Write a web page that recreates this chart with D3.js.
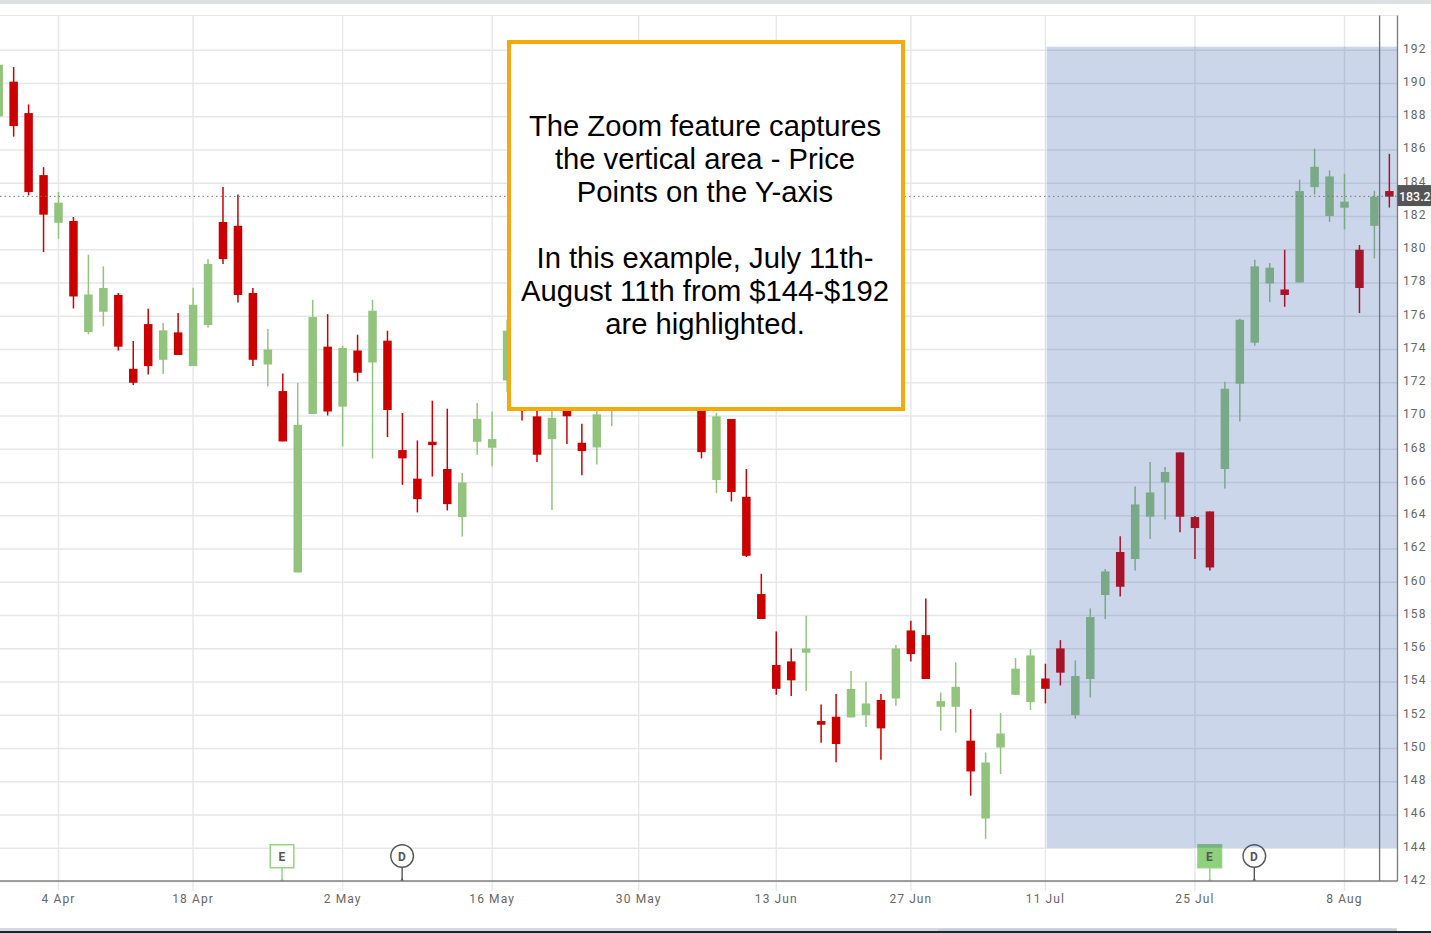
<!DOCTYPE html>
<html><head><meta charset="utf-8">
<script src="https://cdn.jsdelivr.net/npm/d3@7"></script>
<style>
html,body{margin:0;padding:0;background:#fff;overflow:hidden}
svg{display:block}
.tick text{font-family:Roboto,sans-serif;font-size:12px;letter-spacing:1.1px;fill:#666}
</style></head><body>
<svg id="c" width="1431" height="933"></svg>
<script>
// session index: 0 = 4 Apr; last = 11 Aug
const firstIndex = -4;
const opens = [187.99,190.08,188.19,184.46,181.59,181.70,175.02,176.24,177.25,172.81,175.50,173.35,175.00,172.97,175.44,181.64,181.41,177.37,173.07,171.47,160.56,170.09,174.14,170.53,173.91,173.19,174.50,167.92,166.20,168.42,166.78,163.89,168.42,168.06,172.11,173.05,169.95,168.58,170.65,168.36,168.08,171.25,172.45,173.35,175.76,173.96,173.05,170.65,166.12,169.79,165.11,159.26,154.99,155.21,155.73,151.62,151.88,151.84,151.98,152.89,152.98,157.07,156.79,152.48,152.48,150.44,145.76,150.03,153.20,152.76,154.18,155.99,151.98,154.15,159.20,161.79,161.37,163.91,165.97,167.78,163.89,164.23,166.78,171.91,174.38,177.94,177.58,178.00,183.74,182.00,182.50,179.97,181.41,183.50];
const closes = [191.10,187.41,183.44,182.08,182.80,177.16,177.28,177.67,174.14,171.97,172.97,175.12,173.64,176.66,179.11,179.41,177.25,173.35,173.97,168.44,169.44,175.92,170.24,174.06,172.57,176.30,170.33,167.42,164.97,168.22,164.67,165.97,169.80,168.58,175.10,171.25,167.64,169.86,169.95,167.86,170.07,173.35,174.56,176.06,173.65,172.75,171.85,167.80,169.95,165.40,161.56,157.76,153.56,154.07,155.99,151.40,150.24,153.55,152.68,151.18,155.99,155.65,154.15,152.82,153.68,148.59,149.13,150.87,154.77,155.57,153.56,154.53,154.33,157.88,160.62,159.70,164.65,165.37,166.60,163.91,163.23,160.86,171.61,175.76,178.97,178.89,177.25,183.50,184.96,184.38,182.86,177.67,183.16,183.16];
const highs = [191.10,190.96,188.71,184.94,183.44,181.94,179.67,178.97,177.37,174.48,176.42,175.56,176.16,177.68,179.41,183.74,183.30,177.67,175.20,172.53,171.95,176.96,176.10,174.20,174.86,176.96,175.10,170.15,168.50,170.89,170.41,166.54,170.75,170.23,175.76,173.96,170.95,170.95,171.25,169.50,170.65,174.56,175.16,176.96,176.66,174.56,173.65,171.25,170.15,169.79,166.78,160.48,157.01,155.99,157.96,152.62,153.25,154.63,153.99,153.25,156.19,157.65,159.00,153.34,155.15,152.34,149.73,152.10,155.41,155.95,155.07,156.49,155.27,158.39,160.76,162.73,165.73,167.20,166.90,167.78,163.95,164.23,172.03,175.82,179.37,179.17,179.97,184.18,186.05,184.74,184.54,180.25,183.52,185.74];
const lows = [187.99,186.77,183.24,179.83,180.63,176.44,174.88,175.36,173.91,171.83,172.47,172.49,173.64,172.97,175.30,179.11,176.80,172.97,171.75,168.44,160.56,170.09,170.00,168.14,172.05,167.42,168.70,165.83,164.17,166.33,164.29,162.72,167.64,166.94,171.41,169.70,167.20,164.31,168.28,166.40,167.06,169.36,171.85,173.05,173.05,171.85,171.25,167.42,165.33,164.83,161.49,157.76,153.20,153.13,153.43,150.32,149.15,151.84,151.26,149.29,152.54,155.21,154.15,151.04,150.93,147.13,144.54,148.43,153.20,152.28,152.68,153.76,151.76,153.04,157.76,159.12,160.68,162.57,163.75,162.97,161.37,160.68,165.61,169.64,174.20,176.82,176.54,178.00,183.30,181.64,181.19,176.16,179.45,182.51];
const priceTicks = d3.range(142, 194, 2);
const dateTickLabels = ["4 Apr","18 Apr","2 May","16 May","30 May","13 Jun","27 Jun","11 Jul","25 Jul","8 Aug"];
const dateTicks = [0,9,19,29,38.8,48,57,66,76,86];
const lastPrice = 183.2;
const crosshairIndex = 88.38;
const zoomStartIndex = 66.13, zoomTopPrice = 192.18, zoomBottomPrice = 144;
const events = [{k:"E",i:14.95,filled:false},{k:"D",i:22.98,filled:false},{k:"E",i:76.99,filled:true},{k:"D",i:79.97,filled:false}];
const noteLines = ["The Zoom feature captures","the vertical area - Price","Points on the Y-axis","","In this example, July 11th-","August 11th from $144-$192","are highlighted."];

const svg = d3.select("#c");
const L = 0, R = 1397.5, T = 15.5, B = 881;
const x = d3.scaleLinear().domain([0,86]).range([58,1344]);
const xc = i => x(i) + 0.5;
const y = d3.scaleLinear().domain([142,192]).range([B,49.75]);
const GRID = "#e6e7ea", RED = "#cc0000", GREEN = "#93c47d", AXIS="#808080";

// page chrome
svg.append("rect").attr("x",0).attr("y",0).attr("width",1431).attr("height",4).attr("fill","#dee1e4");
svg.append("rect").attr("x",0).attr("y",928).attr("width",1397).attr("height",3).attr("fill","#d6d9dc");
svg.append("rect").attr("x",938).attr("y",929).attr("width",459).attr("height",2).attr("fill","#c6ced9");
svg.append("rect").attr("x",0).attr("y",931).attr("width",1431).attr("height",2).attr("fill","#1b2432");
svg.append("line").attr("x1",L).attr("x2",R).attr("y1",T).attr("y2",T).attr("stroke",GRID).attr("stroke-width",1.2);

// grids via axes
const yGrid = svg.append("g").attr("transform",`translate(${R},0)`)
  .call(d3.axisLeft(y).tickValues(priceTicks).tickSize(R-L).tickFormat(""));
yGrid.select(".domain").remove();
yGrid.selectAll("line").attr("stroke",GRID).attr("stroke-width",1.5);

const xGrid = svg.append("g").attr("transform",`translate(0,${B+10})`)
  .call(d3.axisTop(x).tickValues(dateTicks).tickSize(B+10-T).tickFormat(""));
xGrid.select(".domain").remove();
xGrid.selectAll("line").attr("stroke",GRID).attr("stroke-width",1.4);

// candles
const candles = opens.map((o,k)=>({i:firstIndex+k,o,c:closes[k],h:highs[k],l:lows[k]}));
const color = d => d.c >= d.o ? GREEN : RED;
const bw = 8.5;
const gc = svg.append("g").selectAll("g").data(candles).join("g");
gc.append("line").attr("x1",d=>xc(d.i)).attr("x2",d=>xc(d.i)).attr("y1",d=>y(d.h)).attr("y2",d=>y(d.l))
  .attr("stroke",color).attr("stroke-width",1.5);
gc.append("rect").attr("x",d=>xc(d.i)-bw/2).attr("width",bw)
  .attr("y",d=>y(Math.max(d.o,d.c))).attr("height",d=>Math.max(1,Math.abs(y(d.o)-y(d.c))))
  .attr("fill",color);

// event markers
const ev = svg.append("g").selectAll("g").data(events).join("g");
ev.each(function(d){
  const g = d3.select(this), cx = xc(d.i);
  const col = d.k==="E" ? "#93d480" : "#555";
  const top = 868;
  g.append("line").attr("x1",cx).attr("x2",cx).attr("y1",top).attr("y2",B).attr("stroke",col).attr("stroke-width",1.4);
  g.append("path").attr("d",`M${cx-2},${B}L${cx},${B-3}L${cx+2},${B}Z`).attr("fill",col);
  if(d.k==="E"){
    g.append("rect").attr("x",cx-11.8).attr("y",844.7).attr("width",23.6).attr("height",23)
      .attr("fill",d.filled?"#8ed07c":"#fff").attr("stroke","#93d480").attr("stroke-width",1.5);
  } else {
    g.append("circle").attr("cx",cx).attr("cy",856).attr("r",11.3).attr("fill","#fff").attr("stroke","#555").attr("stroke-width",1.4);
  }
  g.append("text").attr("x",cx-0.3).attr("y",860.5).attr("text-anchor","middle")
    .attr("font-family","Roboto,sans-serif").attr("font-weight",700).attr("font-size",12).attr("fill","#555").text(d.k);
});

// zoom highlight
const zx = x(zoomStartIndex);
svg.append("rect").attr("x",zx).attr("width",R-zx).attr("y",y(zoomTopPrice)).attr("height",y(zoomBottomPrice)-y(zoomTopPrice))
  .attr("fill","rgb(42,84,167)").attr("fill-opacity",0.24);
svg.append("rect").attr("x",zx-2).attr("width",2).attr("y",y(zoomTopPrice)).attr("height",y(zoomBottomPrice)-y(zoomTopPrice))
  .attr("fill","rgb(42,84,167)").attr("fill-opacity",0.06);

// last price line and crosshair
svg.append("line").attr("x1",L).attr("x2",R).attr("y1",y(lastPrice)+0.3).attr("y2",y(lastPrice)+0.3)
  .attr("stroke","#777").attr("stroke-width",1).attr("stroke-dasharray","1.5 3");
svg.append("line").attr("x1",x(crosshairIndex)).attr("x2",x(crosshairIndex)).attr("y1",T).attr("y2",B)
  .attr("stroke","#6b7280").attr("stroke-width",1.3);

// axes
svg.append("line").attr("x1",L).attr("x2",R).attr("y1",B).attr("y2",B).attr("stroke",AXIS).attr("stroke-width",1.4);
svg.append("line").attr("x1",R).attr("x2",R).attr("y1",T).attr("y2",B).attr("stroke",AXIS).attr("stroke-width",1.4);

const yAxis = svg.append("g").attr("transform",`translate(${R},0)`)
  .call(d3.axisRight(y).tickValues(priceTicks).tickSize(0).tickPadding(5.5));
yAxis.select(".domain").remove();
yAxis.selectAll("text").attr("dy","0.2em");

const xAxis = svg.append("g").attr("transform",`translate(0,${B})`)
  .call(d3.axisBottom(x).tickValues(dateTicks).tickSize(0).tickPadding(13)
    .tickFormat((d,k)=>dateTickLabels[k]));
xAxis.select(".domain").remove();
xAxis.selectAll("text").attr("fill","#666");

// price tag
const tag = svg.append("g");
tag.append("rect").attr("x",R).attr("y",y(lastPrice)-11).attr("width",1431-R).attr("height",21).attr("fill","#555");
tag.append("text").attr("x",1399).attr("y",y(lastPrice)+4.5).attr("fill","#fff")
  .attr("font-family","Roboto,sans-serif").attr("font-weight",500).attr("font-size",12.4).text(lastPrice.toFixed(1));

// note
const note = svg.append("g");
note.append("rect").attr("x",509).attr("y",42).attr("width",394).attr("height",367)
  .attr("fill","#fff").attr("stroke","#f5a90c").attr("stroke-width",4);
note.selectAll("text").data(noteLines).join("text")
  .attr("x",705).attr("y",(d,k)=>136.3+k*33).attr("text-anchor","middle")
  .attr("font-family","'Liberation Sans',Arial,sans-serif").attr("font-size",29.2).attr("fill","#000").text(d=>d);
</script>
</body></html>
